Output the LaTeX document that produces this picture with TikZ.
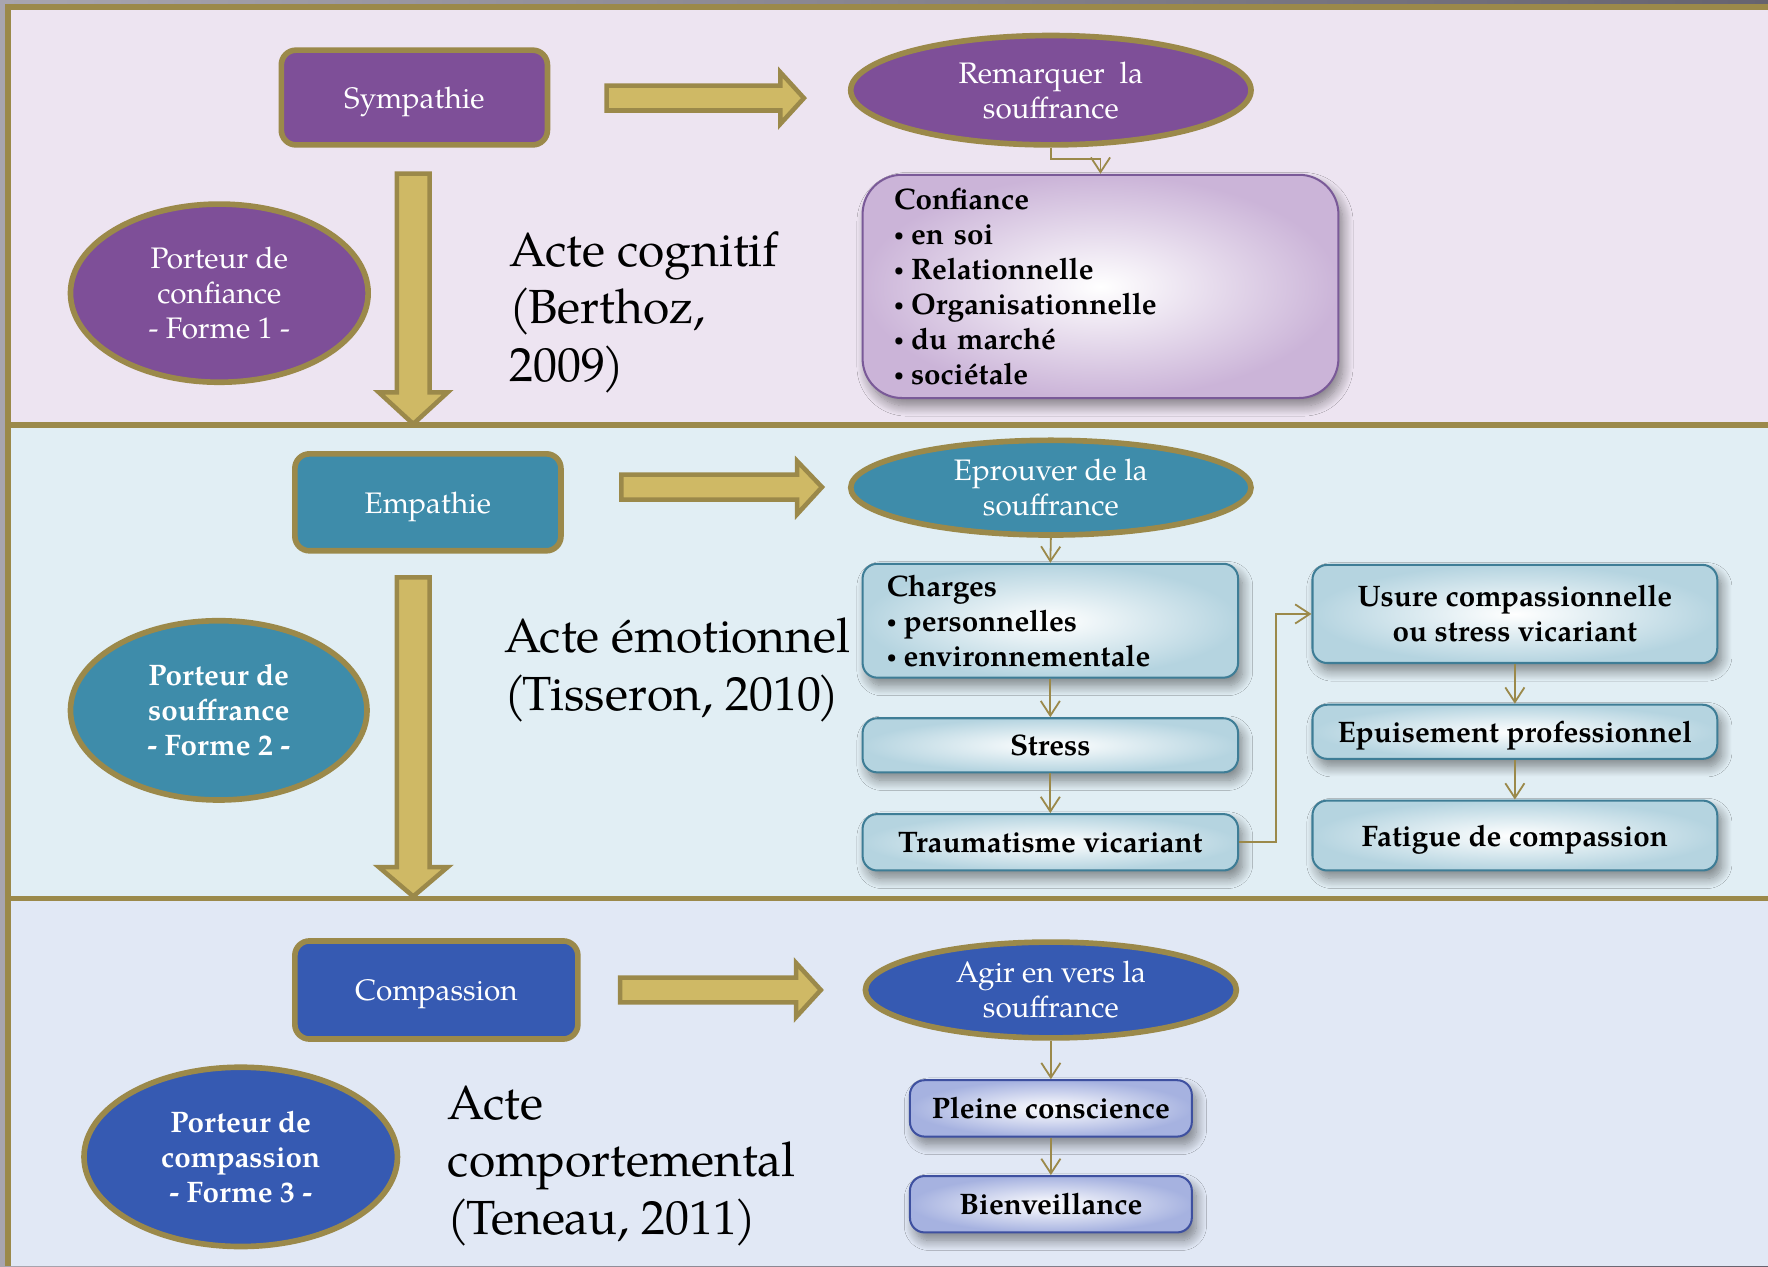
\documentclass[tikz,border=0pt]{standalone}
\usepackage{fontspec}
\setmainfont{TeX Gyre Pagella}
\usetikzlibrary{shapes.geometric,arrows.meta,shadows.blur,calc}
\definecolor{gold}{HTML}{9B894A}
\definecolor{arrowfill}{HTML}{CFB965}
\definecolor{purp}{HTML}{7E4F98}
\definecolor{tealc}{HTML}{3E8CAA}
\definecolor{bluec}{HTML}{365AB2}
\definecolor{bandA}{HTML}{EDE4F1}
\definecolor{bandB}{HTML}{E1EEF4}
\definecolor{bandC}{HTML}{E1E8F5}
\definecolor{confb}{HTML}{7A5A98}
\definecolor{confg}{HTML}{CBB4D8}
\definecolor{tealb}{HTML}{3E7D96}
\definecolor{tealg}{HTML}{B5D4E0}
\definecolor{blueb}{HTML}{3E50A0}
\definecolor{blueg}{HTML}{A6B2E0}
\definecolor{grayL}{HTML}{A8A5AF}
\definecolor{grayR}{HTML}{66636F}
\newcommand\fsm{\fontsize{26.3}{31}\selectfont}
\newcommand\fsbig{\fontsize{42.5}{51}\selectfont}
\newcommand\bul{\makebox[15pt][l]{\raisebox{0.12em}{\scalebox{0.55}{•}}}}
\begin{document}
\begin{tikzpicture}[x=1pt,y=-1pt,
 mainbox/.style={rectangle, rounded corners=13pt, draw=gold, line width=5pt, text=white, font=\fsm, inner sep=0pt, text depth=0pt},
 ell/.style={ellipse, draw=gold, line width=5pt, text=white, font=\fsm, align=center, inner sep=0pt},
 fatarrow/.style={draw=gold, fill=arrowfill, line width=4pt, line join=miter},
 conn/.style={draw=gold, line width=1.6pt, -{Straight Barb[length=13pt,width=17pt]}},
 gbox/.style={rectangle, rounded corners=13pt, line width=1.8pt, font=\fsm\bfseries, inner sep=0pt,
   blur shadow={shadow xshift=4pt, shadow yshift=-7pt, shadow blur radius=9pt, shadow blur steps=14, shadow opacity=45}},
 tbox/.style={gbox, draw=tealb, inner color=white, outer color=tealg},
 bbox/.style={gbox, draw=blueb, inner color=white, outer color=blueg},
 acte/.style={font=\fsbig, align=left, anchor=west, inner sep=0pt}
]
\useasboundingbox (0,0) rectangle (1568,1123);
% background and bands
\shade[left color=grayL, right color=grayR] (0,0) rectangle (1568,1123);
\fill[bandA] (7,6) rectangle (1568,377);
\fill[bandB] (7,377) rectangle (1568,797);
\fill[bandC] (7,797) rectangle (1568,1123);
\draw[gold, line width=5pt] (7,1123) -- (7,6) -- (1568,6);
\draw[gold, line width=5pt] (7,377) -- (1568,377);
\draw[gold, line width=5pt] (7,797) -- (1568,797);

% fat arrows
\draw[fatarrow] (538,76) -- (692,76) -- (692,64) -- (713,87) -- (692,110) -- (692,98) -- (538,98) -- cycle;
\draw[fatarrow] (551,421) -- (707,421) -- (707,409) -- (729,432) -- (707,456) -- (707,443) -- (551,443) -- cycle;
\draw[fatarrow] (550,867) -- (706,867) -- (706,854) -- (728,878) -- (706,902) -- (706,889) -- (550,889) -- cycle;
\draw[fatarrow] (352,154) -- (381,154) -- (381,348) -- (397,348) -- (366.5,376) -- (336,348) -- (352,348) -- cycle;
\draw[fatarrow] (352,512) -- (381,512) -- (381,769) -- (397,769) -- (366.5,795) -- (336,769) -- (352,769) -- cycle;

% band 1
\node[mainbox, fill=purp, minimum width=236pt, minimum height=84pt] (symp) at (367.5,86.5) {Sympathie};
\node[ell, fill=purp, minimum width=355pt, minimum height=97pt] (rem) at (932,80) {Remarquer\ \ la\\souffrance};
\node[ell, fill=purp, minimum width=264pt, minimum height=158pt] (port1) at (194.5,260) {Porteur de\\confiance\\- Forme 1 -};
\node[acte] (acte1) at (452,277) {Acte cognitif\\(\kern-3pt Berthoz,\\2009\kern-3pt)};
\node[gbox, rounded corners=35pt, draw=confb, inner color=white, outer color=confg,
      minimum width=422pt, minimum height=198pt, text width=366pt, align=left] (conf) at (976,254)
  {Confiance\\\bul en soi\\\bul Relationnelle\\\bul Organisationnelle\\\bul du marché\\\bul sociétale};
\draw[conn] (rem.south) -- ++(0,10) -| (conf.north);

% band 2
\node[mainbox, fill=tealc, minimum width=236pt, minimum height=86pt] (emp) at (379.5,445.5) {Empathie};
\node[ell, fill=tealc, minimum width=355pt, minimum height=84pt] (epr) at (932,432.5) {Eprouver de la\\souffrance};
\node[ell, fill=tealc, font=\fsm\bfseries, minimum width=263pt, minimum height=159pt] (port2) at (194,630) {Porteur de\\souffrance\\- Forme 2 -};
\node[acte] (acte2) at (447,594) {Acte émotionnel\\(\kern-3pt Tisseron, 2010\kern-3pt)};
\node[tbox, minimum width=333pt, minimum height=101pt, text width=290pt, align=left] (charges) at (931.5,550.5)
  {Charges\\\bul personnelles\\\bul environnementale};
\node[tbox, minimum width=333pt, minimum height=48pt] (stress) at (931.5,661) {Stress};
\node[tbox, minimum width=333pt, minimum height=50pt, text depth=0pt] (trauma) at (931.5,747) {Traumatisme vicariant};
\node[tbox, minimum width=359pt, minimum height=87pt, align=center] (usure) at (1343.5,544.5) {Usure compassionnelle\\ou stress vicariant};
\node[tbox, minimum width=359pt, minimum height=48pt, text depth=0pt] (epuis) at (1343.5,649) {Epuisement professionnel};
\node[tbox, minimum width=359pt, minimum height=62pt, text depth=0pt] (fatig) at (1343.5,741) {Fatigue de compassion};
\draw[conn] (epr.south) -- (charges.north);
\draw[conn] (charges.south) -- (stress.north);
\draw[conn] (stress.south) -- (trauma.north);
\draw[conn] (trauma.east) -- ++(33,0) |- (usure.west);
\draw[conn] (usure.south) -- (epuis.north);
\draw[conn] (epuis.south) -- (fatig.north);

% band 3
\node[mainbox, fill=bluec, minimum width=251pt, minimum height=87pt] (comp) at (387,878) {Compassion};
\node[ell, fill=bluec, minimum width=329pt, minimum height=85pt] (agir) at (932,878) {Agir en vers la\\souffrance};
\node[ell, fill=bluec, font=\fsm\bfseries, minimum width=278pt, minimum height=159pt] (port3) at (213.5,1026) {Porteur de\\compassion\\- Forme 3 -};
\node[acte] (acte3) at (397,1034) {Acte\\comportemental\\(\kern-3pt Teneau, 2011\kern-3pt)};
\node[bbox, minimum width=250pt, minimum height=50pt] (pleine) at (932,983) {Pleine conscience};
\node[bbox, minimum width=250pt, minimum height=50pt] (bienv) at (932,1068) {Bienveillance};
\draw[conn] (agir.south) -- (pleine.north);
\draw[conn] (pleine.south) -- (bienv.north);
\end{tikzpicture}
\end{document}
